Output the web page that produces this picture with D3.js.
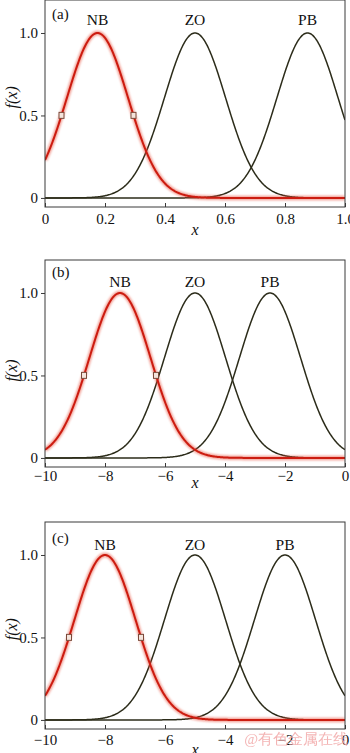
<!DOCTYPE html>
<html>
<head>
<meta charset="utf-8">
<script src="https://cdn.jsdelivr.net/npm/d3@7"></script>
<style>
  html, body { margin: 0; padding: 0; background: #fff; }
  svg { display: block; }
  text { font-family: "Liberation Serif", "Times New Roman", serif; }
</style>
</head>
<body>
<svg id="chart" width="350" height="753"></svg>
<script>
// ---- data ----
const panelLabels = ["(a)", "(b)", "(c)"];
const setNames = ["NB", "ZO", "PB"];
// Gaussian membership function centres for NB, ZO, PB
const centersA = [0.175, 0.5, 0.875];
const centersB = [-7.5, -5, -2.5];
const centersC = [-8, -5, -2];
// Gaussian widths (sigma)
const sigmaA = 0.102;
const sigmaB = 1.02;
const sigmaC = 1.02;
// half-membership markers on NB
const markersA = [0.055, 0.295];
const markersB = [-8.7, -6.3];
const markersC = [-9.2, -6.8];
// x domains and ticks
const xDomainA = [0, 1];
const xDomainB = [-10, 0];
const xDomainC = [-10, 0];
const xTicksA = [0, 0.2, 0.4, 0.6, 0.8, 1.0];
const xTickLabelsA = ["0", "0.2", "0.4", "0.6", "0.8", "1.0"];
const xTicksBC = [-10, -8, -6, -4, -2, 0];
const xTickLabelsBC = ["\u221210", "\u22128", "\u22126", "\u22124", "\u22122", "0"];
const yTicks = [0, 0.5, 1.0];
const yTickLabels = ["0", "0.5", "1.0"];
const yDomain = [-0.055, 1.2];

// ---- layout (not data) ----
const panels = [
  { label: panelLabels[0], centers: centersA, sigma: sigmaA, markers: markersA, xDomain: xDomainA,
    ticks: xTicksA, tickLabels: xTickLabelsA, top: 0, tickPad: 6, xLabelOff: 28, yLabelV: 0.61, nameV: 1.05, panelLabelY: 19 },
  { label: panelLabels[1], centers: centersB, sigma: sigmaB, markers: markersB, xDomain: xDomainB,
    ticks: xTicksBC, tickLabels: xTickLabelsBC, top: 260, tickPad: 3, xLabelOff: 21, yLabelV: 0.53, nameV: 1.036, panelLabelY: 17 },
  { label: panelLabels[2], centers: centersC, sigma: sigmaC, markers: markersC, xDomain: xDomainC,
    ticks: xTicksBC, tickLabels: xTickLabelsBC, top: 522, tickPad: 5, xLabelOff: 26, yLabelV: 0.55, nameV: 1.03, panelLabelY: 21 }
];
const left = 45, right = 345, plotH = 207;

const svg = d3.select("#chart");
const defs = svg.append("defs");
defs.append("filter").attr("id", "glow").attr("x", "-10%").attr("y", "-10%").attr("width", "120%").attr("height", "120%")
  .append("feGaussianBlur").attr("stdDeviation", 1.2);

const gauss = (x, c, s) => Math.exp(-((x - c) * (x - c)) / (2 * s * s));

panels.forEach(p => {
  const g = svg.append("g");
  const x = d3.scaleLinear().domain(p.xDomain).range([left, right]);
  const y = d3.scaleLinear().domain(yDomain).range([p.top + plotH, p.top]);

  const clipId = "clip" + p.label.replace(/[()]/g, "");
  defs.append("clipPath").attr("id", clipId).append("rect")
    .attr("x", left).attr("y", p.top).attr("width", right - left).attr("height", plotH);

  const xs = d3.range(0, 401).map(i => p.xDomain[0] + (p.xDomain[1] - p.xDomain[0]) * i / 400);
  const line = d3.line().x(d => x(d[0])).y(d => y(d[1])).curve(d3.curveLinear);

  const plot = g.append("g").attr("clip-path", `url(#${clipId})`);

  // black curves ZO, PB
  p.centers.forEach((c, i) => {
    if (i === 0) return;
    plot.append("path")
      .datum(xs.map(v => [v, gauss(v, c, p.sigma)]))
      .attr("d", line)
      .attr("fill", "none")
      .attr("stroke", "#2c2c1a")
      .attr("stroke-width", 1.5);
  });
  // NB red curve with glow
  const nb = xs.map(v => [v, gauss(v, p.centers[0], p.sigma)]);
  plot.append("path").datum(nb).attr("d", line).attr("fill", "none")
    .attr("stroke", "#e8503c").attr("stroke-width", 4.5).attr("opacity", 0.55).attr("filter", "url(#glow)");
  plot.append("path").datum(nb).attr("d", line).attr("fill", "none")
    .attr("stroke", "#cc1c10").attr("stroke-width", 2);

  // markers
  plot.selectAll("rect.mk").data(p.markers).enter().append("rect")
    .attr("class", "mk")
    .attr("x", d => x(d) - 2.5)
    .attr("y", d => y(gauss(d, p.centers[0], p.sigma)) - 3)
    .attr("width", 5).attr("height", 6)
    .attr("fill", "#f4e4dc").attr("stroke", "#7a4a3a").attr("stroke-width", 1);

  // frame
  g.append("rect").attr("x", left).attr("y", p.top).attr("width", right - left).attr("height", plotH)
    .attr("fill", "none").attr("stroke", "#3a3a3a").attr("stroke-width", 1);

  // x axis
  const xAxis = d3.axisBottom(x).tickValues(p.ticks)
    .tickFormat((d, i) => p.tickLabels[i]).tickSizeInner(-4).tickSizeOuter(0).tickPadding(p.tickPad);
  const xa = g.append("g").attr("transform", `translate(0,${p.top + plotH})`).call(xAxis);
  xa.select(".domain").remove();
  xa.selectAll("line").attr("stroke", "#3a3a3a");
  xa.selectAll("text").attr("font-size", 15).attr("fill", "#111")
    .attr("font-family", "'Liberation Serif', serif");

  // y axis
  const yAxis = d3.axisLeft(y).tickValues(yTicks)
    .tickFormat((d, i) => yTickLabels[i]).tickSizeInner(4).tickSizeOuter(0).tickPadding(3);
  const ya = g.append("g").attr("transform", `translate(${left},0)`).call(yAxis);
  ya.select(".domain").remove();
  ya.selectAll("line").attr("stroke", "#3a3a3a");
  ya.selectAll("text").attr("font-size", 15).attr("fill", "#111")
    .attr("font-family", "'Liberation Serif', serif");

  // set names
  g.selectAll("text.nm").data(setNames).enter().append("text")
    .attr("class", "nm")
    .attr("x", (d, i) => x(p.centers[i]))
    .attr("y", y(p.nameV))
    .attr("text-anchor", "middle")
    .attr("font-size", 15.5).attr("fill", "#111")
    .text(d => d);

  // panel label
  g.append("text").attr("x", 52).attr("y", p.top + p.panelLabelY)
    .attr("font-size", 15).attr("fill", "#111").text(p.label);

  // axis titles
  g.append("text").attr("x", (left + right) / 2).attr("y", p.top + plotH + p.xLabelOff)
    .attr("text-anchor", "middle").attr("font-size", 16).attr("font-style", "italic").attr("fill", "#111")
    .text("x");
  g.append("text")
    .attr("transform", `translate(17,${y(p.yLabelV)}) rotate(-90)`)
    .attr("text-anchor", "middle").attr("font-size", 16).attr("font-style", "italic").attr("fill", "#111")
    .text("f(x)");
});

// watermark
svg.append("text").attr("x", 348).attr("y", 744).attr("text-anchor", "end")
  .attr("font-family", "'Noto Sans CJK SC', sans-serif").attr("font-size", 15)
  .attr("fill", "#f2a8a8").attr("opacity", 0.85)
  .text("@有色金属在线");
</script>
</body>
</html>
